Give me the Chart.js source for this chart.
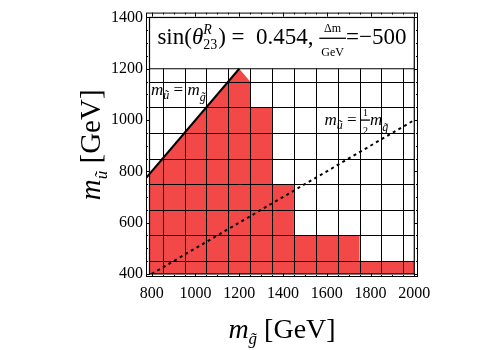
<!DOCTYPE html>
<html>
<head>
<meta charset="utf-8">
<script src="https://cdn.jsdelivr.net/npm/chart.js@4.4.0/dist/chart.umd.min.js"></script>
<style>
  html, body { margin: 0; padding: 0; background: #fff; }
</style>
</head>
<body>
<canvas id="chart" width="500" height="350"></canvas>
<script>
// boundary of the excluded (red) region, m_gluino vs m_squark in GeV
const edgeX = [790, 1200, 1250, 1250, 1350, 1350, 1450, 1450, 1750, 1750, 2000];
const edgeY = [790, 1200, 1150, 1050, 1050, 750, 750, 550, 550, 450, 450];
// m_u = m_g
const equalX = [774, 1200];
const equalY = [774, 1200];
// m_u = m_g / 2
const halfX = [800, 2000];
const halfY = [400, 1000];

const xTicks = [800, 1000, 1200, 1400, 1600, 1800, 2000];
const yTicks = [400, 600, 800, 1000, 1200, 1400];
const cellX = [850, 950, 1050, 1150, 1250, 1350, 1450, 1550, 1650, 1750, 1850, 1950];
const cellY = [450, 550, 650, 750, 850, 950, 1050, 1150];

const SERIF = '"Liberation Serif", "DejaVu Serif", serif';
const RED = 'rgb(243, 72, 72)';

function pts(xs, ys) {
    return xs.map((x, i) => ({ x: x, y: ys[i] }));
}

function setFont(ctx, size, italic) {
    ctx.font = (italic ? 'italic ' : '') + size + 'px ' + SERIF;
}

// draws a row of text pieces: plain, stacked sup/sub, or a small fraction
function rich(ctx, parts, x, y, center) {
    let total = 0;
    parts.forEach(p => {
        if (p.frac) {
            setFont(ctx, p.size, false);
            p.w = Math.max(ctx.measureText(p.frac[0]).width, ctx.measureText(p.frac[1]).width) + 4;
        } else if (p.stack) {
            setFont(ctx, p.size, false);
            p.w = Math.max(ctx.measureText(p.stack[0]).width, ctx.measureText(p.stack[1]).width) + 1;
        } else {
            setFont(ctx, p.size, p.it);
            p.w = ctx.measureText(p.t).width;
        }
        total += p.w;
    });
    let cx = center ? x - total / 2 : x;
    ctx.textAlign = 'left';
    ctx.textBaseline = 'alphabetic';
    parts.forEach(p => {
        if (p.frac) {
            const gap = p.gap || 6;
            setFont(ctx, p.size, false);
            ctx.textAlign = 'center';
            ctx.fillText(p.frac[0], cx + p.w / 2, y - gap - 4);
            ctx.fillText(p.frac[1], cx + p.w / 2, y + gap + 4);
            ctx.fillRect(cx, y - 6, p.w, 1.3);
            ctx.textAlign = 'left';
        } else if (p.stack) {
            setFont(ctx, p.size, true);
            ctx.fillText(p.stack[0], cx, y - 10);
            setFont(ctx, p.size, false);
            ctx.fillText(p.stack[1], cx, y + 5);
        } else {
            setFont(ctx, p.size, p.it);
            ctx.fillText(p.t, cx, y + (p.dy || 0));
        }
        cx += p.w;
    });
}

const decor = {
    id: 'decor',
    afterDatasetDraw(chart, args) {
        if (args.index !== 2) return;
        const { ctx, scales: { x, y } } = chart;
        ctx.save();
        ctx.strokeStyle = '#000';
        ctx.lineWidth = 1;
        ctx.beginPath();
        cellX.forEach(v => {
            const px = Math.round(x.getPixelForValue(v)) + 0.5;
            ctx.moveTo(px, y.getPixelForValue(400));
            ctx.lineTo(px, y.getPixelForValue(1200));
        });
        cellY.forEach(v => {
            const py = Math.round(y.getPixelForValue(v)) + 0.5;
            ctx.moveTo(x.getPixelForValue(790), py);
            ctx.lineTo(x.getPixelForValue(2000), py);
        });
        ctx.stroke();
        ctx.restore();
    },
    afterDatasetsDraw(chart) {
        const { ctx, chartArea: a, scales: { x, y } } = chart;
        ctx.save();
        ctx.strokeStyle = '#000';
        ctx.fillStyle = '#000';
        // inner box and the text panel
        const l = x.getPixelForValue(790), r = x.getPixelForValue(2000);
        const b = y.getPixelForValue(400), t = y.getPixelForValue(1400);
        ctx.lineWidth = 1.2;
        ctx.strokeRect(l, t, r - l, b - t);
        ctx.beginPath();
        ctx.moveTo(l, y.getPixelForValue(1200));
        ctx.lineTo(r, y.getPixelForValue(1200));
        ctx.stroke();
        // outer frame with inward ticks
        ctx.lineWidth = 1;
        ctx.strokeRect(a.left + 0.5, a.top + 0.5, a.right - a.left - 1, a.bottom - a.top - 1);
        ctx.beginPath();
        for (let v = 800; v <= 2000; v += 50) {
            const px = Math.round(x.getPixelForValue(v)) + 0.5;
            const len = v % 200 === 0 ? 4 : 2;
            ctx.moveTo(px, a.bottom); ctx.lineTo(px, a.bottom - len);
            ctx.moveTo(px, a.top); ctx.lineTo(px, a.top + len);
        }
        for (let v = 400; v <= 1400; v += 50) {
            const py = Math.round(y.getPixelForValue(v)) + 0.5;
            const len = v % 200 === 0 ? 4 : 2;
            ctx.moveTo(a.left, py); ctx.lineTo(a.left + len, py);
            ctx.moveTo(a.right, py); ctx.lineTo(a.right - len, py);
        }
        ctx.stroke();

        // panel text
        rich(ctx, [
            { t: 'sin(', size: 23 },
            { t: 'θ', size: 23, it: true },
            { stack: ['R', '23'], size: 14 },
            { t: ')', size: 23 },
            { t: ' =  0.454, ', size: 23 },
            { frac: ['Δm', 'GeV'], size: 12, gap: 8 },
            { t: '=\u2212500', size: 23 }
        ], (l + r) / 2, y.getPixelForValue(1298), true);

        // line labels
        rich(ctx, [
            { t: 'm', size: 17, it: true },
            { t: 'ũ', size: 12, it: true, dy: 4 },
            { t: ' = ', size: 17 },
            { t: 'm', size: 17, it: true },
            { t: 'g\u0303', size: 12, it: true, dy: 6 }
        ], x.getPixelForValue(797), y.getPixelForValue(1097), false);
        rich(ctx, [
            { t: 'm', size: 17, it: true },
            { t: 'ũ', size: 12, it: true, dy: 4 },
            { t: ' = ', size: 17 },
            { frac: ['1', '2'], size: 10, gap: 5 },
            { t: 'm', size: 17, it: true },
            { t: 'g\u0303', size: 12, it: true, dy: 6 }
        ], x.getPixelForValue(1590), y.getPixelForValue(979), false);

        // axis titles
        rich(ctx, [
            { t: 'm', size: 28, it: true },
            { t: 'g\u0303', size: 17, it: true, dy: 6 },
            { t: ' [GeV]', size: 28 }
        ], (a.left + a.right) / 2, 338, true);
        ctx.translate(100, (a.top + a.bottom) / 2);
        ctx.rotate(-Math.PI / 2);
        rich(ctx, [
            { t: 'm', size: 29, it: true },
            { t: 'ũ', size: 17, it: true, dy: 7 },
            { t: ' [GeV]', size: 29 }
        ], 0, 0, true);
        ctx.restore();
    }
};

new Chart(document.getElementById('chart'), {
    type: 'scatter',
    data: {
        datasets: [
            {
                data: pts(equalX, equalY),
                showLine: true,
                borderColor: '#000',
                borderWidth: 2,
                pointRadius: 0,
                fill: false
            },
            {
                data: pts(halfX, halfY),
                showLine: true,
                borderColor: '#000',
                borderWidth: 2,
                borderDash: [3, 3.5],
                pointRadius: 0,
                fill: false
            },
            {
                data: pts(edgeX, edgeY),
                showLine: true,
                borderWidth: 0,
                borderColor: RED,
                backgroundColor: RED,
                pointRadius: 0,
                fill: { value: 400 }
            }
        ]
    },
    options: {
        responsive: false,
        animation: false,
        layout: { padding: { top: 5, right: 82, left: 0, bottom: 0 } },
        plugins: {
            legend: { display: false },
            tooltip: { enabled: false }
        },
        scales: {
            x: {
                type: 'linear',
                min: 774,
                max: 2017,
                grid: { display: false, drawTicks: false },
                border: { display: false },
                afterBuildTicks: s => { s.ticks = xTicks.map(v => ({ value: v })); },
                afterFit: s => { s.height = 73; },
                ticks: {
                    color: '#000',
                    padding: 7,
                    maxRotation: 0,
                    font: { family: SERIF, size: 16 },
                    callback: v => String(v)
                }
            },
            y: {
                type: 'linear',
                min: 388,
                max: 1419,
                grid: { display: false, drawTicks: false },
                border: { display: false },
                afterBuildTicks: s => { s.ticks = yTicks.map(v => ({ value: v })); },
                afterFit: s => { s.width = 146; },
                ticks: {
                    color: '#000',
                    padding: 3,
                    font: { family: SERIF, size: 16 },
                    callback: v => String(v)
                }
            }
        }
    },
    plugins: [decor]
});
</script>
</body>
</html>
